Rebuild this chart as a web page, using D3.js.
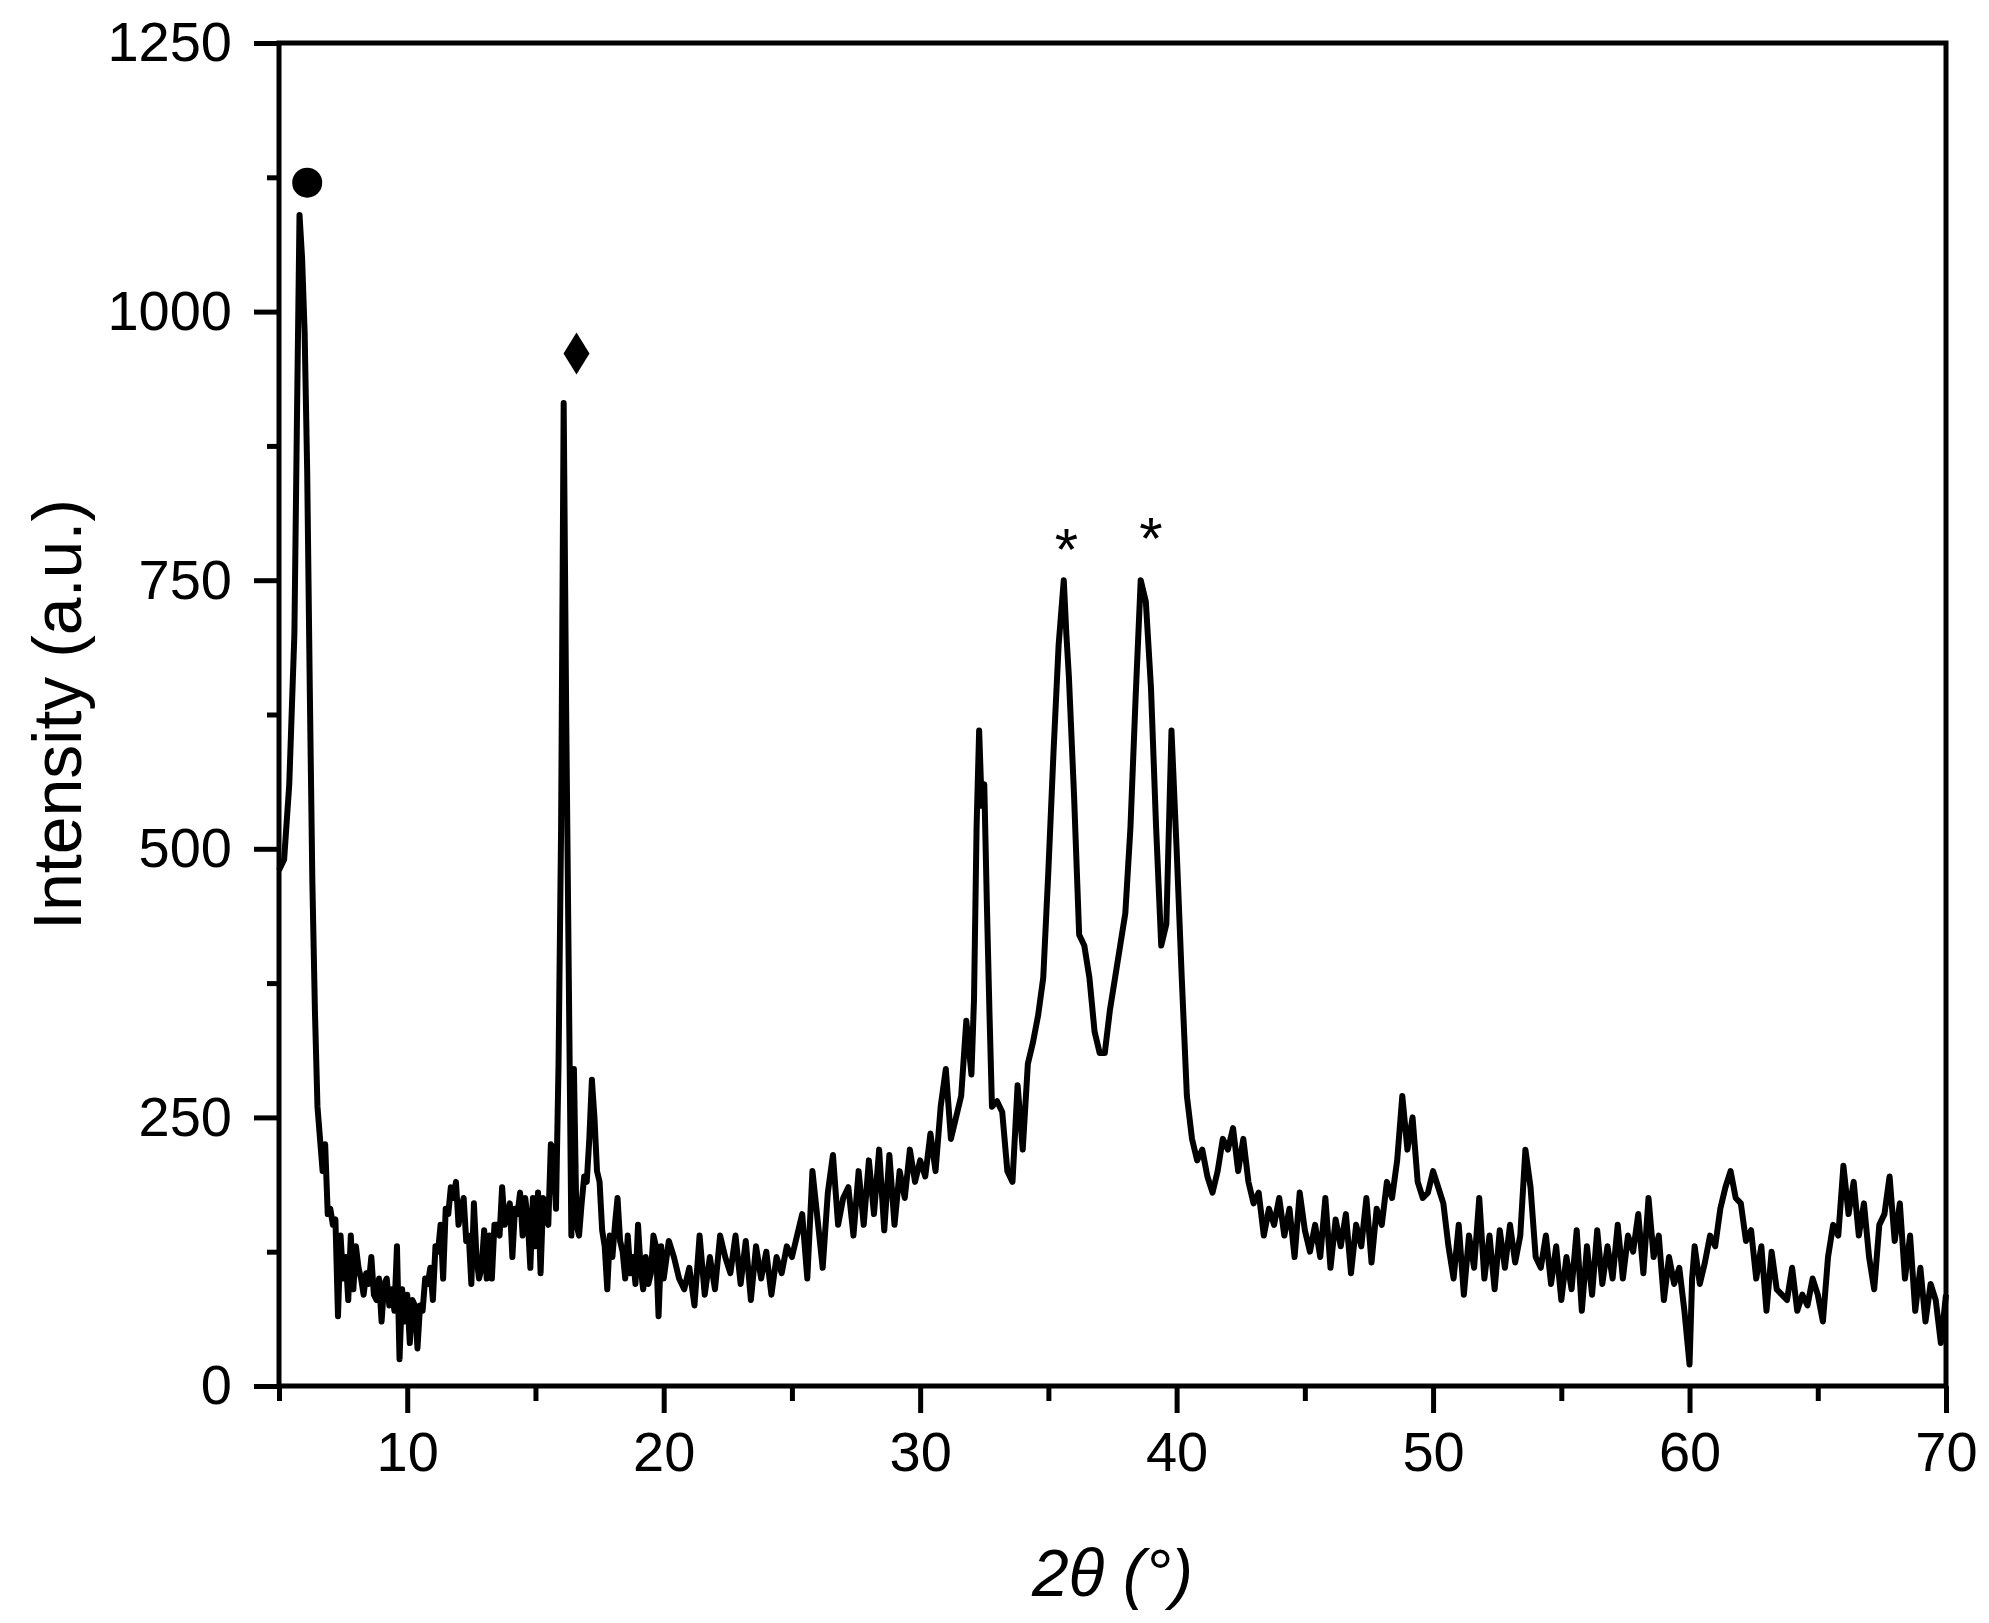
<!DOCTYPE html>
<html>
<head>
<meta charset="utf-8">
<script src="https://cdn.jsdelivr.net/npm/d3@7"></script>
<style>
  body { margin: 0; background: #fff; }
  text { font-family: "Liberation Sans", Arial, sans-serif; fill: #000; }
</style>
</head>
<body>
<svg width="1989" height="1623"></svg>
<script>
const margin = { top: 43, right: 43, bottom: 237, left: 279 },
      width = 1989 - margin.left - margin.right,
      height = 1623 - margin.top - margin.bottom;

// 2theta (deg) and intensity
const twoTheta = [
  5.0,5.2,5.4,5.6,5.7,5.8,5.9,6.0,6.1,6.2,6.3,6.4,6.5,6.6,6.7,6.8,6.9,7.0,7.1,7.2,7.3,7.4,7.5,7.6,7.7,7.8,7.9,
  8.0,8.1,8.2,8.3,8.4,8.5,8.6,8.7,8.8,8.9,9.0,9.1,9.2,9.3,9.4,9.5,9.6,9.7,9.8,9.9,
  10.0,10.1,10.2,10.3,10.4,10.5,10.6,10.7,10.8,10.9,11.0,11.1,11.2,11.3,11.4,11.5,11.6,11.7,11.8,11.9,
  12.0,12.1,12.2,12.3,12.4,12.5,12.6,12.7,12.8,12.9,13.0,13.1,13.2,13.3,13.4,13.5,13.6,13.7,13.8,13.9,
  14.0,14.1,14.2,14.3,14.4,14.5,14.6,14.7,14.8,14.9,15.0,15.1,15.2,15.3,15.4,15.5,15.6,15.7,15.8,15.9,
  16.0,16.1,16.2,16.3,16.4,16.5,16.6,16.7,16.8,16.9,17.0,17.1,17.2,17.3,17.4,17.5,17.6,17.7,17.8,17.9,
  18.0,18.1,18.2,18.3,18.4,18.5,18.6,18.7,18.8,18.9,19.0,19.1,19.2,19.3,19.4,19.5,19.6,19.7,19.8,19.9,
  20.0,20.2,20.4,20.6,20.8,21.0,21.2,21.4,21.6,21.8,22.0,22.2,22.4,22.6,22.8,23.0,23.2,23.4,23.6,23.8,
  24.0,24.2,24.4,24.6,24.8,25.0,25.2,25.4,25.6,25.8,26.0,26.2,26.4,26.6,26.8,27.0,27.2,27.4,27.6,27.8,
  28.0,28.2,28.4,28.6,28.8,29.0,29.2,29.4,29.6,29.8,30.0,30.2,30.4,30.6,30.8,31.0,31.2,31.4,31.6,31.8,
  32.0,32.1,32.2,32.3,32.4,32.5,32.6,32.7,32.8,33.0,33.2,33.4,33.6,33.8,34.0,34.2,34.4,34.6,34.8,
  35.0,35.2,35.4,35.6,35.7,35.8,36.0,36.2,36.4,36.6,36.8,37.0,37.2,37.4,37.6,37.8,38.0,38.2,38.4,38.6,38.8,
  39.0,39.2,39.4,39.6,39.8,40.0,40.2,40.4,40.6,40.8,41.0,41.2,41.4,41.6,41.8,42.0,42.2,42.4,42.6,42.8,
  43.0,43.2,43.4,43.6,43.8,44.0,44.2,44.4,44.6,44.8,45.0,45.2,45.4,45.6,45.8,46.0,46.2,46.4,46.6,46.8,
  47.0,47.2,47.4,47.6,47.8,48.0,48.2,48.4,48.6,48.8,49.0,49.2,49.4,49.6,49.8,50.0,50.2,50.4,50.6,50.8,
  51.0,51.2,51.4,51.6,51.8,52.0,52.2,52.4,52.6,52.8,53.0,53.2,53.4,53.6,53.8,54.0,54.2,54.4,54.6,54.8,
  55.0,55.2,55.4,55.6,55.8,56.0,56.2,56.4,56.6,56.8,57.0,57.2,57.4,57.6,57.8,58.0,58.2,58.4,58.6,58.8,
  59.0,59.2,59.4,59.6,59.8,60.0,60.1,60.2,60.4,60.6,60.8,61.0,61.2,61.4,61.6,61.8,62.0,62.2,62.4,62.6,62.8,
  63.0,63.2,63.4,63.6,63.8,64.0,64.2,64.4,64.6,64.8,65.0,65.2,65.4,65.6,65.8,66.0,66.2,66.4,66.6,66.8,
  67.0,67.2,67.4,67.6,67.8,68.0,68.2,68.4,68.6,68.8,69.0,69.2,69.4,69.6,69.8,70.0
];
const intensity = [
  480,490,560,700,900,1090,1050,980,850,650,470,350,260,230,200,225,160,165,150,155,65,140,100,120,80,140,90,
  130,110,100,85,105,95,120,85,80,100,60,95,100,75,90,70,130,25,90,60,
  85,40,80,75,35,75,70,100,95,110,80,130,125,150,100,165,160,185,175,190,
  150,165,175,135,140,95,170,120,100,110,145,100,140,100,150,150,140,185,150,160,
  170,120,165,160,180,140,175,155,110,175,130,180,105,175,160,150,225,220,165,300,
  520,915,620,380,140,295,150,140,170,195,190,230,285,250,200,190,145,130,90,140,
  120,150,175,135,125,100,140,105,120,95,150,110,90,120,95,105,140,130,65,130,
  100,135,120,100,90,110,75,140,85,120,90,140,120,105,140,95,135,80,130,100,
  125,85,120,105,130,120,140,160,100,200,155,110,180,215,150,175,185,140,200,150,
  210,160,220,145,215,150,200,175,220,190,210,195,235,200,260,295,230,250,270,340,
  290,360,520,610,540,560,450,350,260,265,255,200,190,280,220,300,320,345,380,
  480,590,690,750,700,660,550,420,410,380,330,310,310,350,380,410,440,520,640,750,730,
  650,520,410,430,610,500,380,270,230,210,220,195,180,200,230,220,240,200,230,190,
  170,180,140,165,150,175,140,165,120,180,145,125,150,120,175,110,155,130,160,105,
  150,130,175,115,165,150,190,175,210,270,220,250,190,175,180,200,185,170,130,100,
  150,85,140,110,175,100,140,90,145,110,150,115,140,220,185,120,110,140,95,130,
  80,120,90,145,70,130,85,145,95,130,100,150,100,140,125,160,105,175,120,140,
  80,120,95,110,70,20,100,130,95,115,140,130,165,185,200,175,170,135,145,100,130,
  70,125,90,85,80,110,70,85,75,100,85,60,120,150,140,205,160,190,140,170,
  120,90,150,160,195,135,170,100,140,70,110,60,95,80,40,85
];

// peak markers: [2theta, intensity, symbol]
const markerX = [6.1, 16.6, 35.7, 39.0];
const markerY = [1120, 961, 795, 805];
const markerType = ["circle", "diamond", "star", "star"];

const xTicks = [10, 20, 30, 40, 50, 60, 70];
const xMinor = [5, 15, 25, 35, 45, 55, 65];
const yTicks = [0, 250, 500, 750, 1000, 1250];
const yMinor = [125, 375, 625, 875, 1125];

const svg = d3.select("svg")
  .append("g")
  .attr("transform", `translate(${margin.left},${margin.top})`);

const x = d3.scaleLinear().domain([5, 70]).range([0, width]);
const y = d3.scaleLinear().domain([0, 1250]).range([height, 0]);

// frame
svg.append("rect")
  .attr("width", width).attr("height", height)
  .attr("fill", "none").attr("stroke", "#000").attr("stroke-width", 5);

// x axis
svg.append("g").attr("transform", `translate(0,${height})`)
  .call(d3.axisBottom(x).tickValues(xTicks).tickFormat(d3.format("d")).tickSize(27).tickPadding(18));
svg.append("g").attr("transform", `translate(0,${height})`)
  .call(d3.axisBottom(x).tickValues(xMinor).tickSize(15).tickFormat(""));

// y axis
svg.append("g")
  .call(d3.axisLeft(y).tickValues(yTicks).tickFormat(d3.format("d")).tickSize(25).tickPadding(22));
svg.append("g")
  .call(d3.axisLeft(y).tickValues(yMinor).tickSize(12).tickFormat(""));

svg.selectAll(".domain").remove();
svg.selectAll(".tick line").attr("stroke", "#000").attr("stroke-width", 5);
svg.selectAll(".tick text").style("font-size", "56px")
  .style("font-family", "'Liberation Sans', Arial, sans-serif");

// pattern
const points = twoTheta.map((t, i) => ({ t, v: intensity[i] }));
const line = d3.line().x(d => x(d.t)).y(d => y(d.v));
svg.append("path")
  .datum(points)
  .attr("fill", "none")
  .attr("stroke", "#000")
  .attr("stroke-width", 6)
  .attr("stroke-linejoin", "round")
  .attr("d", line);

// markers
markerX.forEach((mx, i) => {
  const px = x(mx), py = y(markerY[i]);
  if (markerType[i] === "circle") {
    svg.append("circle").attr("cx", px).attr("cy", py).attr("r", 15).attr("fill", "#000");
  } else if (markerType[i] === "diamond") {
    svg.append("path")
      .attr("d", `M${px},${py - 21}L${px + 13},${py}L${px},${py + 21}L${px - 13},${py}Z`)
      .attr("fill", "#000");
  } else {
    svg.append("text").attr("x", px).attr("y", py + 38)
      .attr("text-anchor", "middle").style("font-size", "60px").text("*");
  }
});

// axis titles
svg.append("text")
  .attr("transform", `translate(${57 - margin.left + 24},${height / 2}) rotate(-90)`)
  .attr("text-anchor", "middle")
  .style("font-size", "68px")
  .text("Intensity (a.u.)");

svg.append("text")
  .attr("x", width / 2)
  .attr("y", height + 210)
  .attr("text-anchor", "middle")
  .style("font-size", "66px")
  .style("font-style", "italic")
  .text("2θ (°)");
</script>
</body>
</html>
